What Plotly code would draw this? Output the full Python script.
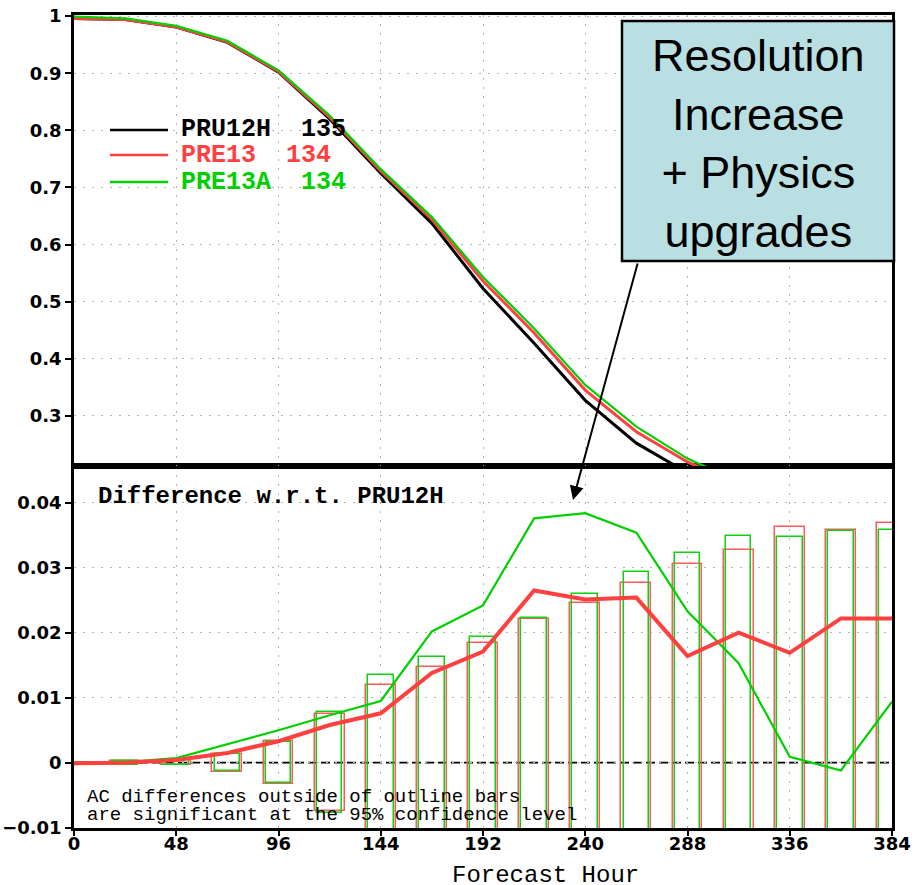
import plotly.graph_objects as go

# ---------------- data ----------------
top_hours = [0, 24, 48, 72, 96, 120, 144, 168, 192, 216, 240, 264, 288, 312]
pru12h_ac = [0.996, 0.994, 0.981, 0.954, 0.902, 0.820, 0.725, 0.637, 0.523, 0.427, 0.327, 0.252, 0.200, 0.165]
pre13_ac = [0.996, 0.994, 0.981, 0.955, 0.903, 0.823, 0.729, 0.644, 0.536, 0.445, 0.345, 0.272, 0.219, 0.180]
pre13a_ac = [0.999, 0.996, 0.983, 0.957, 0.905, 0.826, 0.732, 0.648, 0.543, 0.453, 0.354, 0.281, 0.225, 0.185]

diff_hours = [0, 24, 48, 72, 96, 120, 144, 168, 192, 216, 240, 264, 288, 312, 336, 360, 384]
pre13_diff = [-0.0001, 0.0, 0.0004, 0.0015, 0.0033, 0.0058, 0.0076, 0.0138, 0.0171, 0.0265, 0.0251,
              0.0254, 0.0164, 0.0200, 0.0169, 0.0222, 0.0222]
pre13a_diff = [0.0001, 0.0001, 0.0007, 0.0028, 0.0050, 0.0073, 0.0095, 0.0202, 0.0242, 0.0376, 0.0384,
               0.0354, 0.0233, 0.0153, 0.0009, -0.0012, 0.0094]

bar_hours = [24, 48, 72, 96, 120, 144, 168, 192, 216, 240, 264, 288, 312, 336, 360, 384]
pre13_sig = [0.0002, 0.0004, 0.0014, 0.0033, 0.0075, 0.0120, 0.0148, 0.0184, 0.0221, 0.0245, 0.0277,
             0.0306, 0.0328, 0.0362, 0.0358, 0.0369]
pre13a_sig = [0.0003, 0.0004, 0.0013, 0.0032, 0.0078, 0.0135, 0.0163, 0.0194, 0.0222, 0.0260, 0.0294,
              0.0323, 0.0349, 0.0347, 0.0357, 0.0358]

x_ticks = [0, 48, 96, 144, 192, 240, 288, 336, 384]
x_tick_labels = ["0", "48", "96", "144", "192", "240", "288", "336", "384"]
top_y_ticks = [0.3, 0.4, 0.5, 0.6, 0.7, 0.8, 0.9, 1.0]
top_y_labels = ["0.3", "0.4", "0.5", "0.6", "0.7", "0.8", "0.9", "1"]
bot_y_ticks = [-0.01, 0.0, 0.01, 0.02, 0.03, 0.04]
bot_y_labels = ["\u22120.01", "0", "0.01", "0.02", "0.03", "0.04"]

legend_names = ["PRU12H", "PRE13", "PRE13A"]
legend_counts = ["135", "134", "134"]

# ---------------- style ----------------
W, H = 914, 885
L, R, T, B = 74, 22, 15, 57
PW, PH = W - L - R, H - T - B


def px(x):
    return (x - L) / PW


def py(y):
    return (H - B - y) / PH


SPLIT = py(466)
BLACK = "#000000"
RED = "#ff4040"
RED_BAR = "#ff5a5a"
GREEN = "#00d000"
GREEN_BAR = "#10d010"
GRID = "#b4b4b4"
colors = [BLACK, RED, GREEN]

fig = go.Figure()

# significance outline bars (bottom panel)
fig.add_trace(go.Bar(x=bar_hours, y=[2 * h for h in pre13_sig], base=[-h for h in pre13_sig],
                     width=14, marker=dict(color="rgba(0,0,0,0)", line=dict(color=RED_BAR, width=1.5)),
                     xaxis="x", yaxis="y", showlegend=False, hoverinfo="skip"))
fig.add_trace(go.Bar(x=bar_hours, y=[2 * h for h in pre13a_sig], base=[-h for h in pre13a_sig],
                     width=12, marker=dict(color="rgba(0,0,0,0)", line=dict(color=GREEN_BAR, width=1.5)),
                     xaxis="x", yaxis="y", showlegend=False, hoverinfo="skip"))

# difference lines
fig.add_trace(go.Scatter(x=diff_hours, y=pre13a_diff, mode="lines", line=dict(color=GREEN, width=2.2),
                         xaxis="x", yaxis="y", showlegend=False))
fig.add_trace(go.Scatter(x=diff_hours, y=pre13_diff, mode="lines", line=dict(color=RED, width=4),
                         xaxis="x", yaxis="y", showlegend=False))

# AC lines (top panel)
for vals, col, w in [(pru12h_ac, BLACK, 3), (pre13_ac, RED, 3), (pre13a_ac, GREEN, 2.2)]:
    fig.add_trace(go.Scatter(x=top_hours, y=vals, mode="lines", line=dict(color=col, width=w),
                             xaxis="x2", yaxis="y2", showlegend=False))

tickfont = dict(family="DejaVu Sans", size=18, color="black", weight="bold")
axis_common = dict(showline=True, linecolor="black", linewidth=2.5, mirror=True,
                   showgrid=True, gridcolor=GRID, gridwidth=1.3, griddash="2px,7px",
                   zeroline=False, tickfont=tickfont, tickcolor="black", automargin=False)

fig.update_layout(
    width=W, height=H, margin=dict(l=L, r=R, t=T, b=B, autoexpand=False),
    paper_bgcolor="white", plot_bgcolor="white", barmode="overlay", bargap=0,
    xaxis=dict(domain=[0, 1], anchor="y", range=[0, 384], tickmode="array", tickvals=x_ticks,
               ticktext=x_tick_labels, ticks="outside", ticklen=5, tickwidth=2,
               ticklabelstandoff=-7, **axis_common),
    yaxis=dict(domain=[0, SPLIT], anchor="x", range=[-0.01005, 0.04565], tickmode="array",
               tickvals=bot_y_ticks, ticktext=bot_y_labels, ticks="outside", ticklen=6, tickwidth=2,
               **axis_common),
    xaxis2=dict(domain=[0, 1], anchor="y2", matches="x", range=[0, 384], tickmode="array",
                tickvals=x_ticks, showticklabels=False, ticks="", **axis_common),
    yaxis2=dict(domain=[SPLIT, 1], anchor="x2", range=[0.212, 1.002], tickmode="array",
                tickvals=top_y_ticks, ticktext=top_y_labels, ticks="outside", ticklen=6, tickwidth=2,
                **axis_common),
)

shapes = []
# zero line in difference panel (drawn above grid, below traces)
shapes.append(dict(type="line", xref="x", yref="y", x0=x_ticks[0], x1=x_ticks[-1], y0=0, y1=0,
                   line=dict(color="black", width=1.8, dash="9px,4px"), layer="below"))
# legend samples
for i, yy in enumerate([130, 155, 182]):
    shapes.append(dict(type="line", xref="paper", yref="paper", x0=px(110), x1=px(168), y0=py(yy), y1=py(yy),
                       line=dict(color=colors[i], width=2.5), layer="above"))
# callout box
shapes.append(dict(type="rect", xref="paper", yref="paper", x0=px(622), x1=px(894), y0=py(261), y1=py(21),
                   fillcolor="#b9dfe3", line=dict(color="black", width=2.5), layer="above"))
fig.update_layout(shapes=shapes)

mono_b = dict(family="Liberation Mono", size=25, weight="bold")
ann = []
for i, yy in enumerate([130, 155, 182]):
    ann.append(dict(xref="paper", yref="paper", x=px(179), y=py(yy), xanchor="left", yanchor="middle",
                    text=f"{legend_names[i]}  {legend_counts[i]}", showarrow=False,
                    font=dict(mono_b, color=colors[i])))
ann.append(dict(xref="paper", yref="paper", x=px(96), y=py(497), xanchor="left", yanchor="middle",
                text="Difference w.r.t. PRU12H", showarrow=False,
                font=dict(family="Liberation Mono", size=24, weight="bold", color="black")))
ann.append(dict(xref="paper", yref="paper", x=px(85), y=py(797), xanchor="left", yanchor="middle",
                text="AC differences outside of outline bars", showarrow=False,
                font=dict(family="Liberation Mono", size=19, color="black")))
ann.append(dict(xref="paper", yref="paper", x=px(85), y=py(815), xanchor="left", yanchor="middle",
                text="are significant at the 95% confidence level", showarrow=False,
                font=dict(family="Liberation Mono", size=19, color="black")))
ann.append(dict(xref="paper", yref="paper", x=px(545), y=py(875), xanchor="center", yanchor="middle",
                text="Forecast Hour", showarrow=False,
                font=dict(family="Liberation Mono", size=24, color="black")))
ann.append(dict(xref="paper", yref="paper", x=px(758), y=py(144), xanchor="center", yanchor="middle",
                text="Resolution<br>Increase<br>+ Physics<br>upgrades", showarrow=False,
                font=dict(family="Liberation Sans", size=45, color="black")))
# arrow from box to the difference panel
ann.append(dict(xref="paper", yref="paper", x=px(573), y=py(500), ax=65, ay=-238,
                text="", showarrow=True, arrowhead=2, arrowsize=1.4, arrowwidth=2, arrowcolor="black"))
fig.update_layout(annotations=ann)

fig.write_html("out.html", config={"displayModeBar": False},
               post_script="document.body.style.margin='0';document.body.style.overflow='hidden';")
